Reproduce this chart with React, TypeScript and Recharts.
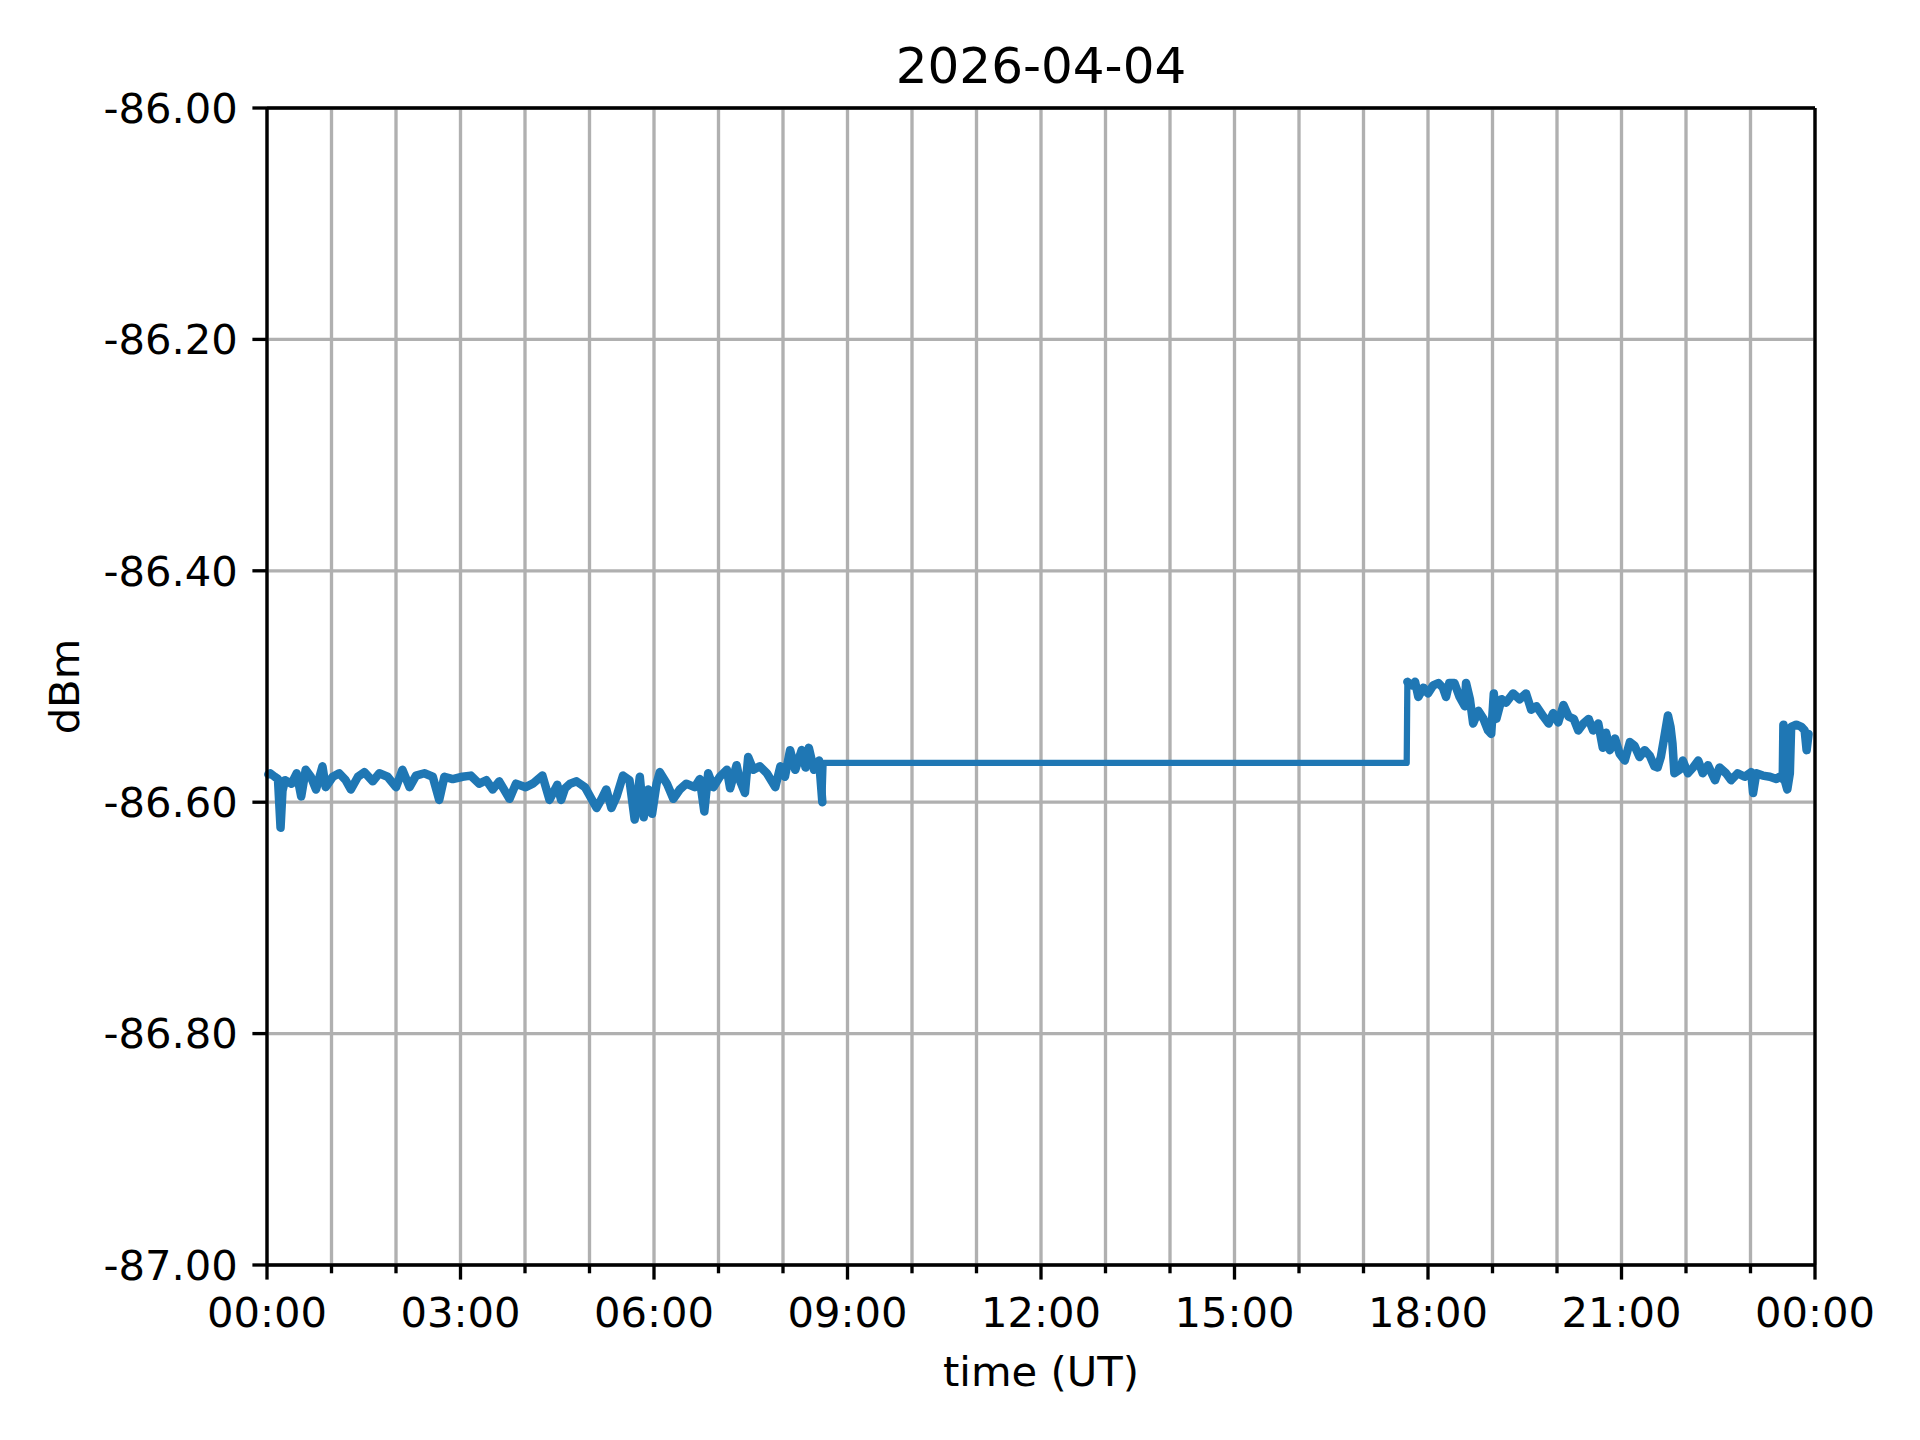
import { Line, LineChart, XAxis, YAxis, CartesianGrid, ReferenceLine } from "recharts"

// time of day in hours (UT) and received level in dBm
const hours = [
  0.02, 0.05, 0.12, 0.17, 0.21, 0.24, 0.28, 0.38, 0.46, 0.53, 0.6, 0.68, 0.76, 0.86, 0.91,
  1.02, 1.12, 1.22, 1.3, 1.41, 1.51, 1.64, 1.74, 1.87, 2.0, 2.1, 2.21, 2.31, 2.44, 2.57,
  2.67, 2.75, 2.88, 3.03, 3.16, 3.29, 3.4, 3.5, 3.6, 3.76, 3.86, 4.01, 4.12, 4.27, 4.38,
  4.5, 4.56, 4.62, 4.7, 4.8, 4.93, 5.03, 5.11, 5.18, 5.26, 5.34, 5.42, 5.52, 5.62, 5.7,
  5.78, 5.84, 5.91, 5.97, 6.04, 6.09, 6.2, 6.3, 6.4, 6.5, 6.63, 6.71, 6.78, 6.84, 6.92,
  7.02, 7.13, 7.18, 7.28, 7.33, 7.41, 7.46, 7.54, 7.64, 7.75, 7.88, 7.96, 8.03, 8.11, 8.19,
  8.29, 8.35, 8.4, 8.48, 8.56, 8.61, 8.63, 17.67, 17.68, 17.75, 17.8, 17.85, 17.93, 18.0,
  18.08, 18.16, 18.23, 18.28, 18.33, 18.41, 18.49, 18.57, 18.59, 18.65, 18.7, 18.78, 18.86,
  18.93, 18.98, 19.02, 19.06, 19.14, 19.21, 19.32, 19.42, 19.52, 19.6, 19.68, 19.79, 19.87,
  19.94, 20.02, 20.1, 20.18, 20.26, 20.33, 20.41, 20.49, 20.56, 20.64, 20.71, 20.76, 20.82,
  20.9, 20.97, 21.05, 21.13, 21.2, 21.28, 21.36, 21.44, 21.51, 21.56, 21.61, 21.66, 21.72,
  21.76, 21.79, 21.82, 21.9, 21.95, 22.03, 22.11, 22.19, 22.26, 22.34, 22.45, 22.52, 22.62,
  22.7, 22.8, 22.91, 23.01, 23.04, 23.09, 23.19, 23.3, 23.4, 23.45, 23.5, 23.51, 23.53,
  23.57, 23.61, 23.63, 23.71, 23.79, 23.84, 23.87, 23.9,
]

const dbm = [
  -86.576, -86.575, -86.578, -86.58, -86.622, -86.59, -86.581, -86.584, -86.575, -86.595, -86.572, -86.578, -86.589, -86.569, -86.587,
  -86.578, -86.575, -86.581, -86.589, -86.578, -86.574, -86.582, -86.575, -86.578, -86.587, -86.572, -86.587, -86.577, -86.575, -86.578,
  -86.598, -86.578, -86.58, -86.578, -86.577, -86.584, -86.581, -86.589, -86.582, -86.597, -86.584, -86.587, -86.584, -86.577, -86.598,
  -86.585, -86.598, -86.588, -86.584, -86.582, -86.587, -86.597, -86.605, -86.598, -86.589, -86.605, -86.595, -86.577, -86.581, -86.615,
  -86.578, -86.613, -86.589, -86.61, -86.584, -86.574, -86.584, -86.597, -86.589, -86.584, -86.587, -86.58, -86.608, -86.575, -86.587,
  -86.578, -86.572, -86.588, -86.568, -86.581, -86.592, -86.561, -86.572, -86.569, -86.575, -86.587, -86.569, -86.578, -86.555, -86.572,
  -86.555, -86.57, -86.553, -86.572, -86.564, -86.6, -86.566, -86.566, -86.496, -86.499, -86.496, -86.509, -86.501, -86.506,
  -86.499, -86.497, -86.501, -86.509, -86.497, -86.497, -86.509, -86.517, -86.497, -86.511, -86.532, -86.521, -86.528,
  -86.538, -86.541, -86.506, -86.528, -86.511, -86.514, -86.506, -86.511, -86.506, -86.52, -86.517, -86.526, -86.532,
  -86.523, -86.531, -86.516, -86.526, -86.528, -86.538, -86.532, -86.528, -86.538, -86.532, -86.553, -86.54, -86.555,
  -86.545, -86.558, -86.564, -86.548, -86.551, -86.561, -86.555, -86.56, -86.569, -86.57, -86.561, -86.545, -86.525,
  -86.535, -86.549, -86.575, -86.572, -86.564, -86.575, -86.57, -86.564, -86.575, -86.568, -86.581, -86.57, -86.575,
  -86.581, -86.575, -86.578, -86.574, -86.592, -86.575, -86.577, -86.578, -86.58, -86.578, -86.58, -86.533, -86.581,
  -86.589, -86.575, -86.535, -86.533, -86.535, -86.538, -86.555, -86.541,
]

// no samples between these times, the logger held the last value
const gapStart = 8.63
const gapEnd = 17.67

const hourTicks = Array.from({ length: 25 }, (_, i) => i)
const dbmTicks = [-87, -86.8, -86.6, -86.4, -86.2, -86]

const W = 1920
const H = 1440
const PLOT_LEFT = 267
const PLOT_RIGHT = 1815
const PLOT_TOP = 108
const PLOT_BOTTOM = 1265
const FONT = "'DejaVu Sans', sans-serif"
const FS = 41.7
const LW = 3.33

const data = hours.map((h, i) => ({
  h,
  v: dbm[i],
  // dense noisy samples read as a thicker band in the original
  noisy: h >= gapStart && h <= gapEnd ? null : dbm[i],
}))

function hourLabel(h: number) {
  return String(h % 24).padStart(2, "0") + ":00"
}

// major tick + label every 3 hours, minor tick every hour
function HourTick(props: any) {
  const { x, payload } = props
  const h = payload.value as number
  const major = h % 3 === 0
  return (
    <g>
      <line x1={x} x2={x} y1={PLOT_BOTTOM} y2={PLOT_BOTTOM + (major ? 14.6 : 8.3)} stroke="#000" strokeWidth={LW} />
      {major && (
        <text x={x} y={1327} textAnchor="middle" fontSize={FS} fontFamily={FONT} fill="#000">
          {hourLabel(h)}
        </text>
      )}
    </g>
  )
}

export default function App() {
  return (
    <div style={{ position: "absolute", left: 0, top: 0, width: W, height: H, background: "#fff" }}>
      <LineChart
        width={W}
        height={H}
        data={data}
        margin={{ top: PLOT_TOP, right: W - PLOT_RIGHT, left: 0, bottom: 0 }}
      >
        <CartesianGrid stroke="#b0b0b0" strokeWidth={LW} />
        <XAxis
          dataKey="h"
          type="number"
          domain={[0, 24]}
          ticks={hourTicks}
          interval={0}
          height={H - PLOT_BOTTOM}
          stroke="#000"
          strokeWidth={LW}
          tickLine={false}
          tick={<HourTick />}
        />
        <YAxis
          type="number"
          domain={[-87, -86]}
          ticks={dbmTicks}
          interval={0}
          width={PLOT_LEFT}
          stroke="#000"
          strokeWidth={LW}
          tickSize={14.6}
          tickMargin={14.6}
          tickFormatter={(v: number) => v.toFixed(2)}
          tick={{ fontSize: FS, fontFamily: FONT, fill: "#000" }}
        />
        <Line
          type="linear"
          dataKey="v"
          stroke="#1f77b4"
          strokeWidth={6.25}
          strokeLinejoin="round"
          dot={false}
          isAnimationActive={false}
        />
        <Line
          type="linear"
          dataKey="noisy"
          stroke="#1f77b4"
          strokeWidth={8.5}
          strokeLinejoin="round"
          strokeLinecap="round"
          dot={false}
          connectNulls={false}
          isAnimationActive={false}
        />
        <ReferenceLine y={-86} stroke="#000" strokeWidth={LW} />
        <ReferenceLine x={24} stroke="#000" strokeWidth={LW} />
      </LineChart>
      <svg
        width={W}
        height={H}
        style={{ position: "absolute", left: 0, top: 0, pointerEvents: "none" }}
      >
        <text x={(PLOT_LEFT + PLOT_RIGHT) / 2} y={83} textAnchor="middle" fontSize={50} fontFamily={FONT} fill="#000">
          2026-04-04
        </text>
        <text x={(PLOT_LEFT + PLOT_RIGHT) / 2} y={1386} textAnchor="middle" fontSize={FS} fontFamily={FONT} fill="#000">
          time (UT)
        </text>
        <text
          x={79}
          y={(PLOT_TOP + PLOT_BOTTOM) / 2}
          transform={`rotate(-90 79 ${(PLOT_TOP + PLOT_BOTTOM) / 2})`}
          textAnchor="middle"
          fontSize={FS}
          fontFamily={FONT}
          fill="#000"
        >
          dBm
        </text>
      </svg>
    </div>
  )
}
